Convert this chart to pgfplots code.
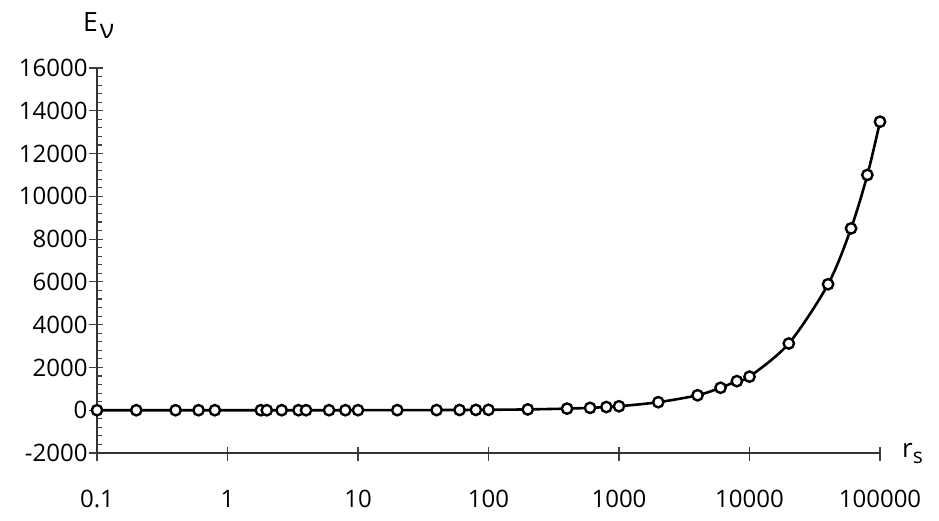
\documentclass[border=0pt]{standalone}
\usepackage{fontspec}
\setmainfont{Open Sans}
\usepackage{pgfplots}
\pgfplotsset{compat=1.18}
\begin{document}
\begin{tikzpicture}[x=1pt,y=1pt]
\begin{axis}[
  at={(97pt,67pt)}, anchor=south west,
  scale only axis, width=783pt, height=385pt,
  xmode=log, log basis x=10,
  xmin=0.1, xmax=100000, ymin=-2000, ymax=16000,
  axis x line=bottom, axis y line=left,
  axis line style={-, black!80, line width=1.4pt},
  xtick={0.1,1,10,100,1000,10000,100000},
  xticklabels={0.1,1,10,100,1000,10000,100000},
  ytick={-2000,0,2000,4000,6000,8000,10000,12000,14000,16000},
  scaled y ticks=false,
  minor y tick num=4,
  tick align=inside,
  major tick length=14pt, minor tick length=5pt,
  every tick/.style={black!75, line width=1.2pt},
  major x tick style={yshift=-8pt},
  major y tick style={xshift=-8pt},
  /pgf/number format/.cd, set thousands separator={}, fixed, assume math mode=true,
  /pgfplots/.cd,
  tick label style={font=\fontsize{24}{26}\selectfont},
  xticklabel style={yshift=-34pt},
  yticklabel style={xshift=-6pt},
  clip=false,
]
\addplot[black, line width=2.6pt, smooth, mark=*, mark size=5.2pt,
  mark options={fill=white, draw=black, line width=2.4pt}] coordinates {
(0.1,0) (0.2,0) (0.4,0) (0.6,0) (0.8,0) (1.8,0) (2,0) (2.6,0) (3.5,0) (4,0)
(6,1) (8,1) (10,2) (20,4) (40,8) (60,11) (80,15) (100,19) (200,38) (400,75)
(600,110) (800,150) (1000,185) (2000,375) (4000,700) (6000,1050) (8000,1360)
(10000,1570) (20000,3120) (40000,5890) (60000,8500) (80000,11000) (100000,13490)
};
\end{axis}
\node[anchor=base west, inner sep=0pt, font=\fontsize{26.5}{29}\selectfont] at (83,488) {E\hspace{2pt}\raisebox{-7pt}{ν}};
\node[anchor=base west, inner sep=0pt, font=\fontsize{26}{29}\selectfont] at (902,63) {r\raisebox{-6pt}{\fontsize{21}{24}\selectfont s}};
\pgfresetboundingbox
\path[use as bounding box] (0,0) rectangle (939,520);
\end{tikzpicture}
\end{document}
